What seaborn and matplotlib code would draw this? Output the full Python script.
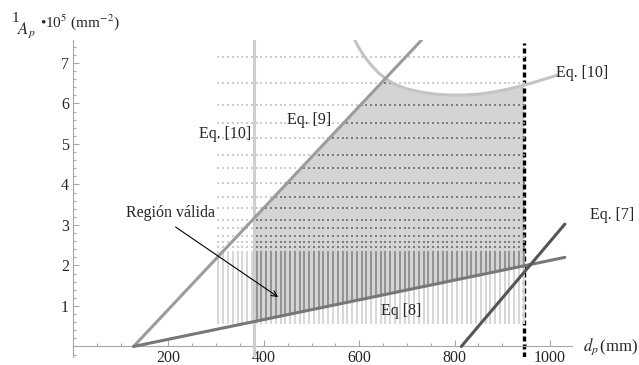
import numpy as np
import matplotlib
matplotlib.use("Agg")
import matplotlib.pyplot as plt
import seaborn as sns
from matplotlib.ticker import MultipleLocator

# Lines (d_p in mm, 1/A_p * 1e5 in mm^-2)
eq9_x = [127, 731]
eq9_y = [0.0, 7.57]
eq8_x = [127, 1031]
eq8_y = [0.0, 2.20]
eq7_x = [814, 1031]
eq7_y = [0.0, 3.02]
eq10_vert_x = [380, 380]
eq10_vert_y = [-0.27, 7.58]
eq10_curve_x = [590, 600, 612, 625, 640, 657, 675, 700, 730, 760, 790, 820,
                850, 880, 910, 945, 980, 1015]
eq10_curve_y = [7.58, 7.36, 7.14, 6.95, 6.76, 6.60, 6.47, 6.36, 6.28, 6.23,
                6.21, 6.21, 6.23, 6.28, 6.35, 6.45, 6.57, 6.70]
d_limit = 945
d_min = 380

# grid of trial sections: columns in d_p, rows in 1/A_p
grid_cols = list(range(305, 950, 10))
grid_rows = [7.14, 6.50, 5.96, 5.51, 5.14, 4.72, 4.41, 4.03, 3.69, 3.41, 3.12,
             2.92, 2.74, 2.58, 2.46]
# below this band the rows are so close that they merge into stripes
stripe_lo = 0.55
stripe_hi = 2.36

sns.set_style("ticks")
plt.rcParams['font.family'] = ['Liberation Serif', 'DejaVu Serif']
plt.rcParams['mathtext.fontset'] = 'stix'

W, H = 639, 365
fig = plt.figure(figsize=(W / 100, H / 100), dpi=100)
ax = fig.add_axes([73 / W, 1 - 357.4 / H, 498.5 / W, 317.9 / H])
ax.set_xlim(0, 1045)
ax.set_ylim(-0.27, 7.58)


def lower_bound(x):
    return np.interp(x, eq8_x, eq8_y)


def upper_bound(x):
    return np.minimum(np.interp(x, eq9_x, eq9_y),
                      np.interp(x, eq10_curve_x, eq10_curve_y, left=np.inf))


# valid region fill
xs = np.linspace(d_min, d_limit, 400)
low = lower_bound(xs)
high = upper_bound(xs)
ax.fill_between(xs, low, high, where=high > low, color='#d4d4d4', lw=0, zorder=1)

# limit on d_p
ax.plot([d_limit, d_limit], [-0.27, 7.5], color='black', lw=2.4,
        linestyle=(0, (1.5, 0.9)), zorder=2)

# trial points
gx, gy = np.meshgrid(grid_cols, grid_rows)
gx = gx.ravel()
gy = gy.ravel()
valid = (gx >= d_min) & (gx <= d_limit) & (gy >= lower_bound(gx)) & (gy <= upper_bound(gx))
sns.scatterplot(x=gx[~valid], y=gy[~valid], color='#cdcdcd', marker='s', s=2.4,
                linewidth=0, ax=ax, zorder=3)
sns.scatterplot(x=gx[valid], y=gy[valid], color='#7c7c7c', marker='s', s=2.8,
                linewidth=0, ax=ax, zorder=3)

cols = np.array(grid_cols)
ax.vlines(cols, stripe_lo, stripe_hi, color='#d6d6d6', lw=1.4, zorder=3)
vc = cols[(cols >= d_min) & (cols <= d_limit)]
ax.vlines(vc, lower_bound(vc), stripe_hi, color='#8c8c8c', lw=1.3, zorder=3)

ax.plot(eq10_vert_x, eq10_vert_y, color='#cfcfcf', lw=2.2, zorder=4)
ax.plot(eq10_curve_x, eq10_curve_y, color='#c4c4c4', lw=2.2, zorder=4)
ax.plot(eq9_x, eq9_y, color='#9c9c9c', lw=2.2, zorder=5)
ax.plot(eq8_x, eq8_y, color='#777777', lw=2.2, zorder=5)
ax.plot(eq7_x, eq7_y, color='#555555', lw=2.2, zorder=5)

# axes crossing at the origin
for s in ['top', 'right']:
    ax.spines[s].set_visible(False)
ax.spines['bottom'].set_position(('data', 0))
ax.spines['left'].set_position(('data', 0))
for s in ['bottom', 'left']:
    ax.spines[s].set_color('#a8a8a8')
    ax.spines[s].set_linewidth(0.8)
ax.xaxis.set_minor_locator(MultipleLocator(50))
ax.yaxis.set_minor_locator(MultipleLocator(0.2))
ax.set_xticks([200, 400, 600, 800, 1000])
ax.set_yticks([1, 2, 3, 4, 5, 6, 7])
ax.tick_params(which='both', direction='in', color='#a8a8a8', width=0.8,
               labelsize=11.5)
ax.tick_params(which='major', length=4)
ax.tick_params(which='minor', length=2.2)
ax.tick_params(axis='x', pad=2.5)
ax.tick_params(axis='y', pad=3)


def px(x, y):
    return x / W, 1 - y / H


fs = 11.5
fig.text(*px(15, 18), '1', fontsize=11, ha='center', va='center')
fig.text(*px(26, 30), '$A_p$', fontsize=12, ha='center', va='center')
fig.text(*px(40, 22), '•10$^5$ (mm$^{-2}$)', fontsize=11, ha='left', va='center')
fig.text(*px(611, 347), '$d_p\\,$(mm)', fontsize=12, ha='center', va='center')
fig.text(*px(582, 73), 'Eq. [10]', fontsize=fs, ha='center', va='center')
fig.text(*px(309, 120), 'Eq. [9]', fontsize=fs, ha='center', va='center')
fig.text(*px(225, 134), 'Eq. [10]', fontsize=fs, ha='center', va='center')
fig.text(*px(612, 215), 'Eq. [7]', fontsize=fs, ha='center', va='center')
fig.text(*px(401, 311), 'Eq [8]', fontsize=fs, ha='center', va='center')
fig.text(*px(170, 213), 'Región válida', fontsize=fs, ha='center', va='center')

ax.annotate('', xy=(430, 1.22), xytext=(215, 2.95),
            arrowprops=dict(arrowstyle='->', color='black', lw=0.8,
                            shrinkA=0, shrinkB=0), zorder=6)

fig.savefig('out.png', dpi=100)
